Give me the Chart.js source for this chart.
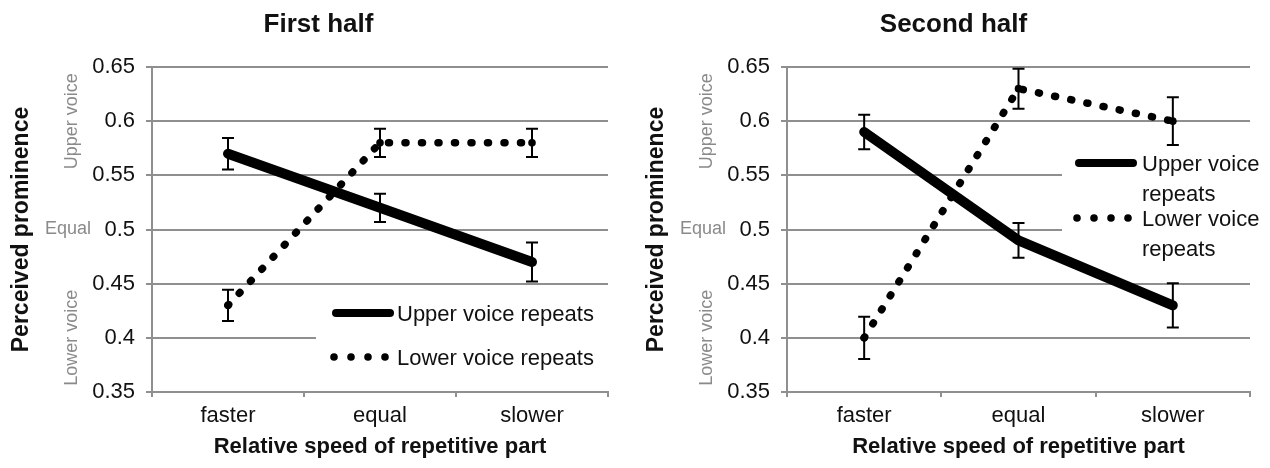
<!DOCTYPE html>
<html>
<head>
<meta charset="utf-8">
<script src="https://cdn.jsdelivr.net/npm/chart.js@4.4.1/dist/chart.umd.min.js"></script>
<style>
  html, body { margin: 0; padding: 0; background: #fff; }
  #wrap { position: relative; width: 1270px; height: 468px; overflow: hidden; }
  canvas { position: absolute; top: 0; }
  #first { left: 0; }
  #second { left: 635px; }
</style>
</head>
<body>
<div id="wrap">
  <canvas id="first" width="635" height="468"></canvas>
  <canvas id="second" width="635" height="468"></canvas>
</div>
<script>
// ---- data ----
const categories = ['faster', 'equal', 'slower'];
const yTickValues = [0.35, 0.4, 0.45, 0.5, 0.55, 0.6, 0.65];
const seriesNames = ['Upper voice repeats', 'Lower voice repeats'];
const panelTitles = ['First half', 'Second half'];

const firstUpper = [0.57, 0.52, 0.47];
const firstUpperErr = [0.0145, 0.013, 0.018];
const firstLower = [0.43, 0.58, 0.58];
const firstLowerErr = [0.0145, 0.013, 0.013];

const secondUpper = [0.59, 0.49, 0.43];
const secondUpperErr = [0.016, 0.016, 0.0205];
const secondLower = [0.40, 0.63, 0.60];
const secondLowerErr = [0.0195, 0.0185, 0.022];

const sideLabelText = ['Upper voice', 'Equal', 'Lower voice'];
const sideLabelValue = [0.6, 0.5, 0.4];

// ---- styling ----
const FONT = '"Liberation Sans", Arial, Helvetica, sans-serif';
const GRID = '#8f8f8f';
const INK = '#111111';

// panel heading
const headingPlugin = {
  id: 'heading',
  afterDraw(chart, args, opts) {
    const ctx = chart.ctx;
    ctx.save();
    ctx.font = 'bold 26px ' + FONT;
    ctx.fillStyle = INK;
    ctx.textAlign = 'center';
    ctx.textBaseline = 'alphabetic';
    ctx.fillText(opts.text, opts.x, opts.y);
    ctx.restore();
  }
};

// grey "Upper voice / Equal / Lower voice" guides beside the value axis
const sideLabelPlugin = {
  id: 'sideLabels',
  afterDraw(chart, args, opts) {
    const ctx = chart.ctx;
    const y = chart.scales.y;
    ctx.save();
    ctx.font = '18px ' + FONT;
    ctx.fillStyle = '#8a8a8a';
    ctx.textAlign = 'center';
    ctx.textBaseline = 'middle';
    sideLabelText.forEach((t, i) => {
      const py = y.getPixelForValue(sideLabelValue[i]);
      if (t === 'Equal') {
        ctx.fillText(t, opts.equalX, py);
      } else {
        ctx.save();
        ctx.translate(opts.rotX, py);
        ctx.rotate(-Math.PI / 2);
        ctx.fillText(t, 0, 0);
        ctx.restore();
      }
    });
    ctx.restore();
  }
};

// legend panel with white backing, drawn under the data lines
const boxLegendPlugin = {
  id: 'boxLegend',
  beforeDatasetsDraw(chart, args, opts) {
    const ctx = chart.ctx;
    ctx.save();
    ctx.fillStyle = '#ffffff';
    ctx.fillRect(opts.box[0], opts.box[1], opts.box[2], opts.box[3]);
    ctx.font = '22px ' + FONT;
    ctx.textAlign = 'left';
    ctx.textBaseline = 'middle';
    chart.data.datasets.forEach((ds, i) => {
      const row = opts.rows[i];
      // sample
      ctx.strokeStyle = '#000';
      ctx.fillStyle = '#000';
      if (ds.borderDash && ds.borderDash.length) {
        for (let k = 0; k < 4; k++) {
          ctx.beginPath();
          ctx.arc(opts.sampleX + 2 + k * 17, row.y, 3.8, 0, Math.PI * 2);
          ctx.fill();
        }
      } else {
        ctx.lineWidth = 8;
        ctx.lineCap = 'round';
        ctx.beginPath();
        ctx.moveTo(opts.sampleX + 4, row.y);
        ctx.lineTo(opts.sampleX + 58, row.y);
        ctx.stroke();
      }
      // text, optionally wrapped before the last word
      ctx.fillStyle = INK;
      let lines = [ds.label];
      if (opts.wrap) {
        const cut = ds.label.lastIndexOf(' ');
        lines = [ds.label.slice(0, cut), ds.label.slice(cut + 1)];
      }
      lines.forEach((ln, j) => ctx.fillText(ln, opts.textX, row.y + 2 + j * opts.lineGap));
    });
    ctx.restore();
  }
};

// standard error bars
const errorBarPlugin = {
  id: 'errorBars',
  afterDatasetsDraw(chart) {
    const ctx = chart.ctx;
    const y = chart.scales.y;
    ctx.save();
    ctx.strokeStyle = '#000';
    ctx.lineWidth = 2;
    ctx.lineCap = 'butt';
    chart.data.datasets.forEach((ds, di) => {
      const meta = chart.getDatasetMeta(di);
      ds.data.forEach((v, i) => {
        const e = ds.errors[i];
        const px = meta.data[i].x;
        const top = y.getPixelForValue(v + e);
        const bot = y.getPixelForValue(v - e);
        ctx.beginPath();
        ctx.moveTo(px, top); ctx.lineTo(px, bot);
        ctx.moveTo(px - 6, top); ctx.lineTo(px + 6, top);
        ctx.moveTo(px - 6, bot); ctx.lineTo(px + 6, bot);
        ctx.stroke();
      });
    });
    ctx.restore();
  }
};

function makePanel(id, title, upper, upperErr, lower, lowerErr, rightPad, legendOpts) {
  return new Chart(document.getElementById(id), {
    type: 'line',
    data: {
      labels: categories,
      datasets: [
        {
          label: seriesNames[0], data: upper, errors: upperErr,
          borderColor: '#000', borderWidth: 10, borderCapStyle: 'round', borderJoinStyle: 'round',
          pointRadius: 0, tension: 0, fill: false
        },
        {
          label: seriesNames[1], data: lower, errors: lowerErr,
          borderColor: '#000', borderWidth: 7.5, borderDash: [1, 15.5], borderCapStyle: 'round',
          pointRadius: 3.8, pointBackgroundColor: '#000', pointBorderWidth: 0, tension: 0, fill: false
        }
      ]
    },
    options: {
      responsive: false,
      animation: false,
      devicePixelRatio: 1,
      layout: { padding: { left: 0, right: rightPad, top: 67, bottom: 0 } },
      plugins: {
        legend: { display: false },
        tooltip: { enabled: false },
        title: { display: false },
        heading: { text: title, x: 318.5, y: 32 },
        sideLabels: { rotX: 72, equalX: 68 },
        boxLegend: legendOpts
      },
      scales: {
        x: {
          type: 'category',
          offset: true,
          grid: { display: true, drawOnChartArea: false, drawTicks: true, tickLength: 5, offset: true, color: GRID, lineWidth: 2 },
          border: { display: true, color: GRID, width: 2 },
          ticks: { font: { family: FONT, size: 22 }, color: INK, padding: 6 },
          title: {
            display: true, text: 'Relative speed of repetitive part',
            font: { family: FONT, size: 22, weight: 'bold' }, color: INK,
            padding: { top: 0, bottom: 8 }
          },
          afterFit(s) { s.height = 76; }
        },
        y: {
          min: 0.35, max: 0.65,
          afterBuildTicks(s) { s.ticks = yTickValues.map(v => ({ value: v })); },
          ticks: {
            font: { family: FONT, size: 22 }, color: INK, padding: 11,
            callback: v => String(Math.round(v * 100) / 100)
          },
          grid: { color: GRID, lineWidth: 2, drawTicks: true, tickLength: 6 },
          border: { display: true, color: GRID, width: 2 },
          title: {
            display: true, text: 'Perceived prominence',
            font: { family: FONT, size: 23, weight: 'bold' }, color: INK,
            padding: { top: 8, bottom: 0 }
          },
          afterFit(s) { s.width = 152; }
        }
      }
    },
    plugins: [boxLegendPlugin, errorBarPlugin, sideLabelPlugin, headingPlugin]
  });
}

makePanel('first', panelTitles[0], firstUpper, firstUpperErr, firstLower, firstLowerErr, 27, {
  box: [316, 292, 292, 92],
  rows: [{ y: 313 }, { y: 357 }],
  sampleX: 332, textX: 397, wrap: false, lineGap: 30
});

makePanel('second', panelTitles[1], secondUpper, secondUpperErr, secondLower, secondLowerErr, 20, {
  box: [427, 146, 188, 116],
  rows: [{ y: 163 }, { y: 218 }],
  sampleX: 440, textX: 507, wrap: true, lineGap: 30
});
</script>
</body>
</html>
